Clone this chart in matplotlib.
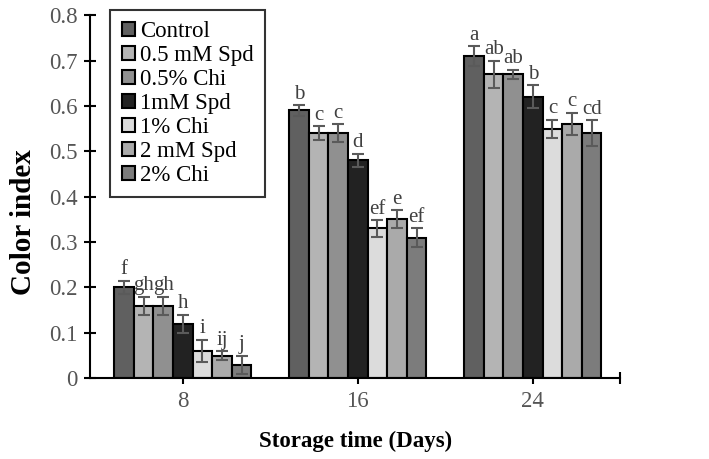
import matplotlib
matplotlib.use('Agg')
import matplotlib.pyplot as plt
import numpy as np

# datos
dias = ['8', '16', '24']
tratamientos = ['Control', '0.5 mM Spd', '0.5% Chi', '1mM Spd', '1% Chi', '2 mM Spd', '2% Chi']
valores = [
    [0.20, 0.59, 0.71],
    [0.16, 0.54, 0.67],
    [0.16, 0.54, 0.67],
    [0.12, 0.48, 0.62],
    [0.06, 0.33, 0.55],
    [0.05, 0.35, 0.56],
    [0.03, 0.31, 0.54],
]
errores = [
    [0.015, 0.012, 0.022],
    [0.020, 0.015, 0.030],
    [0.020, 0.020, 0.010],
    [0.020, 0.015, 0.025],
    [0.025, 0.018, 0.020],
    [0.010, 0.020, 0.025],
    [0.020, 0.020, 0.028],
]
letras = [
    ['f', 'b', 'a'],
    ['gh', 'c', 'ab'],
    ['gh', 'c', 'ab'],
    ['h', 'd', 'b'],
    ['i', 'ef', 'c'],
    ['ij', 'e', 'c'],
    ['j', 'ef', 'cd'],
]
colores = ['#606060', '#b4b4b4', '#909090', '#222222', '#dcdcdc', '#aaaaaa', '#7c7c7c']

plt.rcParams['font.family'] = ['Liberation Serif', 'DejaVu Serif']

fig = plt.figure(figsize=(7.09, 4.59), dpi=100)
ax = fig.add_axes([0.127, 0.176, 0.748, 0.791])

x = np.arange(len(dias))
w = 0.112
n = len(tratamientos)
for i in range(n):
    pos = x + (i - (n - 1) / 2) * w
    ax.bar(pos, valores[i], w, color=colores[i], edgecolor='black', linewidth=1.5,
           label=tratamientos[i], zorder=2)
    ax.errorbar(pos, valores[i], yerr=errores[i], fmt='none', ecolor='#5a5a5a',
                elinewidth=1.5, capsize=4.5, capthick=1.5, zorder=3)
    for j in range(len(dias)):
        ax.text(pos[j], valores[i][j] + errores[i][j] + 0.003, letras[i][j],
                ha='center', va='bottom', fontsize=15, color='#404040', zorder=4)

ax.set_xlim(-0.53, 2.5)
ax.set_ylim(0, 0.8)
ax.set_yticks(np.arange(0, 0.81, 0.1))
ax.set_yticklabels(['0'] + ['%.1f' % v for v in np.arange(0.1, 0.81, 0.1)])
ax.set_xticks(x)
ax.set_xticklabels(dias)
ax.set_xticks([2.5], minor=True)
ax.tick_params(axis='both', which='both', direction='inout', length=8, width=1.5,
               labelsize=16.5, labelcolor='#555555')
ax.tick_params(axis='x', pad=5)
ax.tick_params(axis='y', pad=5)
for s in ['top', 'right']:
    ax.spines[s].set_visible(False)
for s in ['left', 'bottom']:
    ax.spines[s].set_linewidth(1.5)

ax.set_xlabel('Storage time (Days)', fontsize=16.5, fontweight='bold', labelpad=14)
ax.set_ylabel('Color index', fontsize=21, fontweight='bold')
ax.yaxis.set_label_coords(-0.1, 0.43)

leg = ax.legend(loc='upper left', bbox_to_anchor=(0.038, 1.015), fontsize=16.5,
                frameon=True, fancybox=False, edgecolor='black', handlelength=0.6,
                handleheight=0.6, handletextpad=0.2, labelspacing=0.13,
                borderpad=0.5, borderaxespad=0)
leg.get_frame().set_linewidth(1.5)

fig.savefig('out.png', dpi=100)
